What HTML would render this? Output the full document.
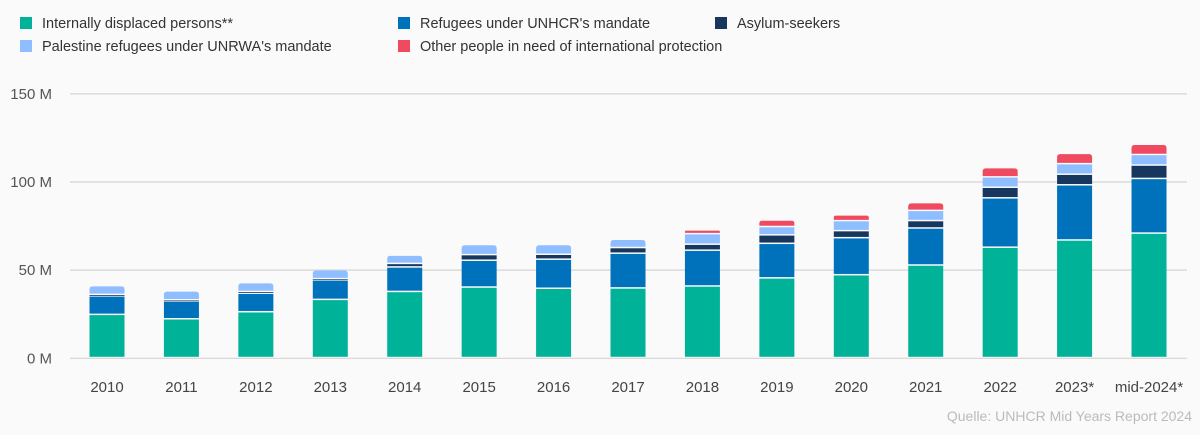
<!DOCTYPE html>
<html><head><meta charset="utf-8">
<style>
html,body{margin:0;padding:0;background:#fafafa;}
body{width:1200px;height:430px;overflow:hidden;font-family:"Liberation Sans",sans-serif;}
</style></head>
<body>
<svg id="chart" width="1200" height="430" xmlns="http://www.w3.org/2000/svg" font-family="Liberation Sans, sans-serif">
<rect x="0" y="0" width="1200" height="430" fill="#fafafa"/>
<g id="legend"></g>
<g id="grid"></g>
<g id="bars"></g>
<g id="xlabels"></g>
<text x="1192" y="421" text-anchor="end" font-size="14" fill="#bbb">Quelle: UNHCR Mid Years Report 2024</text>
</svg>
<script>
const categories = ["2010","2011","2012","2013","2014","2015","2016","2017","2018","2019","2020","2021","2022","2023*","mid-2024*"];
const idp       = [24.5,22,26,33,37.5,40,39.3,39.5,40.6,45.2,47,52.5,62.6,66.7,70.6];
const refugees  = [10.5,10,10.5,11,13.9,15.2,16.5,19.7,20.3,19.6,21,21,28,31.3,31];
const asylum    = [0.8,0.8,1,0.8,2,3.2,2.8,3.2,3.4,4.8,4,4.2,6,6,7.6];
const palestine = [5,5,5,5,4.7,5.7,5.5,4.7,6,4.7,5.7,5.8,5.9,6,6];
const others    = [0,0,0,0,0,0,0,0,2.1,3.7,3.2,4.4,5.2,5.8,5.8];
const yTicks = [0,50,100,150];
const yTickLabels = ["0 M","50 M","100 M","150 M"];

const NS="http://www.w3.org/2000/svg";
const x0=107, step=74.43, bw=35;
const xScale=i=>x0+i*step;
const yScale=v=>358.3-v*1.763;
function mk(tag,attrs,parent){const e=document.createElementNS(NS,tag);for(const k in attrs)e.setAttribute(k,attrs[k]);parent.appendChild(e);return e;}

const grid=document.getElementById('grid');
yTicks.forEach((t,i)=>{
  const l=mk('line',{x1:70,x2:1187,y1:yScale(t),y2:yScale(t),stroke:'#d4d4d4','stroke-width':1.2},grid);
  
  
  const tx=mk('text',{x:52,y:yScale(t)+5,'text-anchor':'end','font-size':15,fill:'#555'},grid);
  tx.textContent=yTickLabels[i];
  
  
});

const series=[
 {name:'idp',vals:idp,color:'#00b398'},
 {name:'refugees',vals:refugees,color:'#0072bc'},
 {name:'asylum',vals:asylum,color:'#18375f'},
 {name:'palestine',vals:palestine,color:'#8ebeff'},
 {name:'others',vals:others,color:'#ef4a60'}];
const bars=document.getElementById('bars');
categories.forEach((c,i)=>{
  let cum=0;
  let lastIdx=-1;
  series.forEach((s,k)=>{if(s.vals[i]>0)lastIdx=k;});
  series.forEach((s,k)=>{
    const v=s.vals[i]; if(v<=0)return;
    const yb=yScale(cum), yt=yScale(cum+v);
    cum+=v;
    const x=xScale(i)-bw/2;
    let h=Math.max(yb-yt-1.5,0.8);
    let el;
    if(k===lastIdx){
      const r=Math.min(3,h/2), y=yt;
      el=mk('path',{d:`M${x},${y+h}V${y+r}Q${x},${y} ${x+r},${y}H${x+bw-r}Q${x+bw},${y} ${x+bw},${y+r}V${y+h}Z`,fill:s.color},bars);
    } else {
      el=mk('rect',{x:x,y:yt,width:bw,height:h,fill:s.color},bars);
    }
    
    
  });
  const t=mk('text',{x:xScale(i),y:392,'text-anchor':'middle','font-size':15,fill:'#444'},document.getElementById('xlabels'));
  t.textContent=c;
  
  
});

const legendItems=[
 {label:'Internally displaced persons**',color:'#00b398',x:20,y:17},
 {label:"Refugees under UNHCR's mandate",color:'#0072bc',x:398,y:17},
 {label:'Asylum-seekers',color:'#18375f',x:715,y:17},
 {label:"Palestine refugees under UNRWA's mandate",color:'#8ebeff',x:20,y:40},
 {label:'Other people in need of international protection',color:'#ef4a60',x:398,y:40}];
const lg=document.getElementById('legend');
legendItems.forEach(it=>{
  const r=mk('rect',{x:it.x,y:it.y,width:12,height:12,fill:it.color},lg);
  
  
  const t=mk('text',{x:it.x+22,y:it.y+11,'font-size':14.5,fill:'#333'},lg);
  t.textContent=it.label;
  
  
});
</script>
</body></html>
